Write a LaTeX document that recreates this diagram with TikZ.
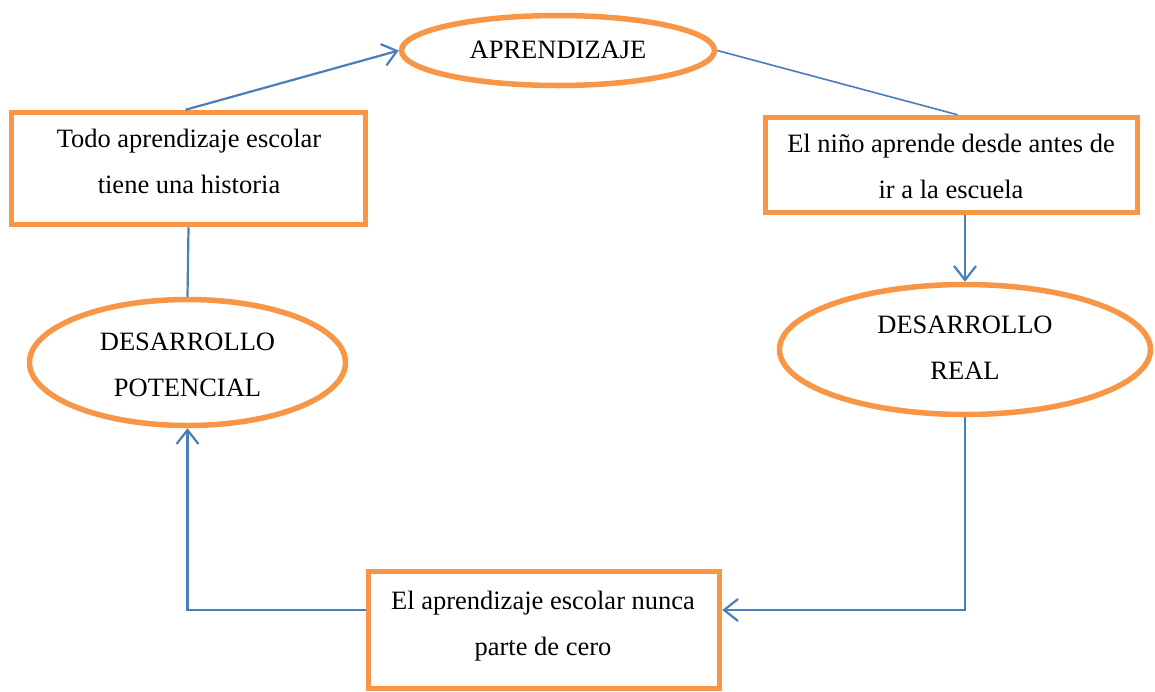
\documentclass[tikz,border=0pt]{standalone}
\usepackage{fontspec}
\setmainfont{Liberation Serif}
\usetikzlibrary{shapes.geometric,arrows.meta}
\definecolor{borde}{HTML}{F79646}
\definecolor{linea}{HTML}{4A7EBB}
\begin{document}
\begin{tikzpicture}[x=1pt,y=-1pt,
  caja/.style={draw=borde,line width=5.5pt,rectangle,inner sep=0pt},
  elip/.style={draw=borde,line width=5.5pt,ellipse,inner sep=0pt},
  txt/.style={anchor=base,align=center,inner sep=0pt,font=\fontsize{26.5}{46}\selectfont},
  conn/.style={draw=linea,line width=2.2pt},
  flecha/.style={conn,-{Straight Barb[length=14pt,width=22pt,line width=2.2pt]}}]
\useasboundingbox (0,0) rectangle (1155,691);
% shapes
\node[elip,minimum width=313pt,minimum height=70pt] (apr) at (558,50.5) {};
\node[caja,minimum width=354pt,minimum height=112pt] (b1) at (188.5,168.5) {};
\node[caja,minimum width=372pt,minimum height=95pt] (b2) at (951.5,165) {};
\node[elip,minimum width=316pt,minimum height=126pt] (dp) at (187.5,362.5) {};
\node[elip,minimum width=371pt,minimum height=130pt] (dr) at (965,349.5) {};
\node[caja,minimum width=351pt,minimum height=117pt] (b3) at (544,630) {};
% texts (anchor at baseline of last line)
\node[txt] (tapr) at (558,58) {APRENDIZAJE};
\node[txt] (tb1) at (189,193) {Todo aprendizaje escolar\\tiene una historia};
\node[txt] (tb2) at (951,198) {El niño aprende desde antes de\\ir a la escuela};
\node[txt] (tdp) at (187.5,396) {DESARROLLO\\POTENCIAL};
\node[txt] (tdr) at (965,379) {DESARROLLO\\REAL};
\node[txt] (tb3) at (543,655) {El aprendizaje escolar nunca\\parte de cero};
% connectors
\coordinate (c1) at (965,610);
\draw[flecha] ([xshift=-3pt]b1.north) -- (apr.west);
\draw[conn,line width=1.6pt] (apr.east) -- ([xshift=6pt]b2.north);
\draw[flecha] (b2.south -| dr.north) -- (dr.north);
\draw[conn] (b1.south) -- (dp.north);
\draw[flecha] (dr.south) -- (c1) -- (b3.east |- c1);
\draw[flecha] (b3.west |- c1) -| (dp.south);
\end{tikzpicture}
\end{document}
